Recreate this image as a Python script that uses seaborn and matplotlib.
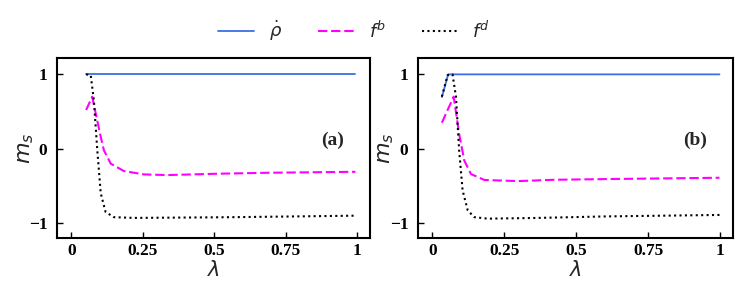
import numpy as np
import pandas as pd
import matplotlib
matplotlib.use("Agg")
import matplotlib.pyplot as plt
import seaborn as sns

# panel (a)
lam_rho_a = [0.052, 0.10, 0.25, 0.5, 0.75, 0.994]
rho_a = [1.0, 1.0, 1.0, 1.0, 1.0, 1.0]
lam_fb_a = [0.052, 0.073, 0.103, 0.114, 0.138, 0.184, 0.254, 0.336, 0.51, 0.685, 0.994]
fb_a = [0.52, 0.70, 0.16, -0.02, -0.20, -0.30, -0.345, -0.354, -0.336, -0.323, -0.31]
lam_fd_a = [0.052, 0.068, 0.079, 0.091, 0.103, 0.12, 0.149, 0.219, 0.569, 0.994]
fd_a = [1.0, 0.99, 0.65, -0.02, -0.60, -0.85, -0.92, -0.93, -0.92, -0.90]

# panel (b)
lam_rho_b = [0.033, 0.055, 0.25, 0.5, 0.75, 0.998]
rho_b = [0.695, 1.0, 1.0, 1.0, 1.0, 1.0]
lam_fb_b = [0.033, 0.074, 0.093, 0.111, 0.134, 0.181, 0.298, 0.426, 0.601, 0.776, 0.998]
fb_b = [0.35, 0.70, 0.20, -0.16, -0.34, -0.42, -0.435, -0.417, -0.408, -0.40, -0.39]
lam_fd_b = [0.033, 0.053, 0.07, 0.082, 0.093, 0.105, 0.123, 0.146, 0.193, 0.368, 0.60, 0.998]
fd_b = [0.70, 0.99, 1.0, 0.70, -0.02, -0.56, -0.83, -0.92, -0.94, -0.93, -0.91, -0.89]

xticks = [0, 0.25, 0.5, 0.75, 1]
xticklabels = ["0", "0.25", "0.5", "0.75", "1"]
yticks = [-1, 0, 1]
yticklabels = ["\u22121", "0", "1"]

sns.set_style("ticks")

series_names = [r"$\dot{\rho}$", r"$f^b$", r"$f^d$"]
palette = {series_names[0]: "#3b6fe8", series_names[1]: "#ff00ff", series_names[2]: "black"}
styles = {series_names[0]: (None, None), series_names[1]: (4.5, 1.8), series_names[2]: (1, 1.6)}


def make_df(lr, r, lb, b, ld, d):
    parts = []
    for name, xs, ys in zip(series_names, [lr, lb, ld], [r, b, d]):
        parts.append(pd.DataFrame({"lam": xs, "m": ys, "series": name}))
    return pd.concat(parts, ignore_index=True)


data = [
    make_df(lam_rho_a, rho_a, lam_fb_a, fb_a, lam_fd_a, fd_a),
    make_df(lam_rho_b, rho_b, lam_fb_b, fb_b, lam_fd_b, fd_b),
]
tags = ["(a)", "(b)"]

fig = plt.figure(figsize=(7.47, 2.92), dpi=100)
axes = [fig.add_axes([57 / 747, 1 - 238 / 292, 313 / 747, 180 / 292]),
        fig.add_axes([418 / 747, 1 - 238 / 292, 315 / 747, 180 / 292])]

for ax, df, tag in zip(axes, data, tags):
    for name in series_names:
        sub = df[df["series"] == name]
        dash = styles[name]
        lw = 1.3 if name == series_names[0] else 1.5
        sns.lineplot(data=sub, x="lam", y="m", ax=ax, color=palette[name],
                     linewidth=lw, label=name, legend=False, sort=False)
        if dash[0] is not None:
            ax.lines[-1].set_dashes(dash)
    ax.set_xlim(-0.05, 1.045)
    ax.set_ylim(-1.2, 1.22)
    ax.set_xticks(xticks)
    ax.set_xticklabels(xticklabels, family="Liberation Serif", fontweight="bold", fontsize=12.5)
    ax.set_yticks(yticks)
    ax.set_yticklabels(yticklabels, family="Liberation Serif", fontweight="bold", fontsize=12.5)
    ax.tick_params(direction="in", length=4, width=1, colors="black")
    ax.tick_params(axis="y", pad=7)
    ax.tick_params(axis="x", pad=3.5)
    for sp in ax.spines.values():
        sp.set_visible(True)
        sp.set_linewidth(1.5)
        sp.set_color("black")
    ax.set_xlabel(r"$\lambda$", fontsize=15, va="center")
    ax.xaxis.set_label_coords(0.5, -0.175)
    ax.set_ylabel(r"$m_s$", fontsize=16, va="center")
    ax.yaxis.set_label_coords(-0.1, 0.5)
    ax.text(0.88, 0.545, tag, transform=ax.transAxes, family="Liberation Serif",
            fontweight="bold", fontsize=14, ha="center", va="center")

handles, labels = axes[0].get_legend_handles_labels()
fig.legend(handles, labels, loc="upper center", bbox_to_anchor=(0.474, 0.99), ncol=3,
           frameon=False, fontsize=13, handlelength=2.0, columnspacing=2.0)

fig.savefig("out.png", dpi=100)
